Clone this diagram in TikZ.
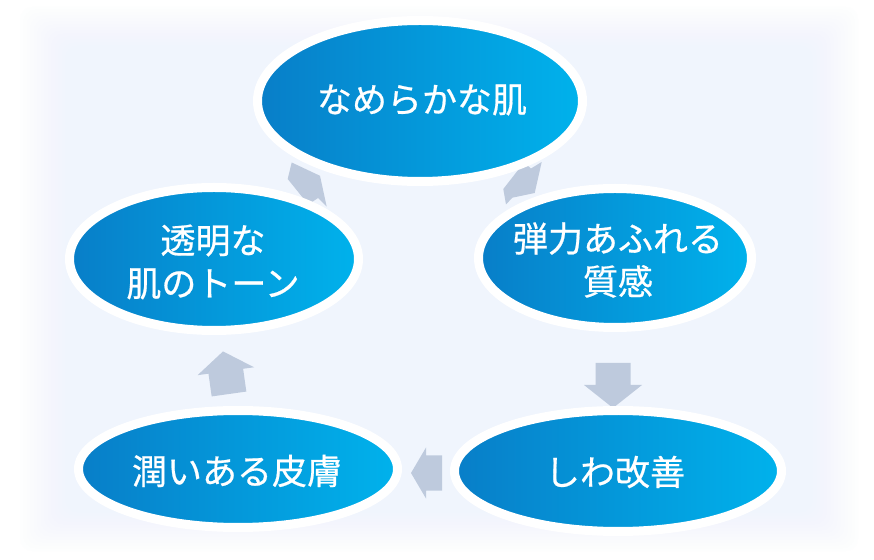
\documentclass[tikz,border=0pt]{standalone}
\usepackage{fontspec}
\newfontfamily\jp[FakeBold=0.6]{Noto Sans CJK JP}
\usetikzlibrary{shapes.geometric}
\definecolor{bluel}{RGB}{8,126,200}
\definecolor{bluer}{RGB}{0,178,236}
\definecolor{arrowc}{RGB}{190,202,221}
\definecolor{bgc}{RGB}{238,245,253}
\newcommand\barrow[7]{%
  \fill[arrowc, shift={(#2)}, rotate=#3] (0,-#6/2) -- ({#4-#5},-#6/2) -- ({#4-#5},-#7/2) -- (#4,0)
    -- ({#4-#5},#7/2) -- ({#4-#5},#6/2) -- (0,#6/2) -- cycle;
  \coordinate (#1) at (#2);}
\begin{document}
\begin{tikzpicture}[x=1pt,y=1pt,
  bubble/.style={ellipse, draw=white, line width=9pt, shade, left color=bluel, right color=bluer,
     inner sep=0pt, outer sep=0pt},
  lbl/.style={text=white, align=center, inner sep=0pt, font=\jp\fontsize{35}{43}\selectfont},
  ]
\useasboundingbox (0,0) rectangle (874,559);
\fill[white] (0,0) rectangle (874,559);
\foreach \i in {0,...,13}
  \fill[bgc, opacity=0.065, rounded corners=12pt] (20+\i*3.5, 8+\i*3) rectangle (858-\i*3.5, 552-\i*3);
% block arrows (under the ellipses)
\fill[arrowc] (291.7,396.5) -- (320,383.2) -- (326.7,352.3) -- (318,361) -- (308.3,354.5) -- (287.7,380) -- cycle;
\coordinate (a1) at (305,380);
\fill[arrowc] (524,396.5) -- (531,390.5) -- (541.7,397) -- (534.7,366) -- (512.3,361.3) -- (506,354.5) -- (503.3,370) -- cycle;
\coordinate (a2) at (520,380);
\barrow{a3}{613,196}{-90}{45}{23}{35}{58}
\barrow{a4}{442,86}{180}{31}{15}{35}{51}
\barrow{a5}{229,165}{98}{43}{20}{35}{57}
% ellipses
\node[bubble, minimum width=325pt, minimum height=161pt] (top) at (420,458) {};
\node[bubble, minimum width=273pt, minimum height=139pt] (right) at (615,301) {};
\node[bubble, minimum width=327pt, minimum height=121pt] (br) at (618,88) {};
\node[bubble, minimum width=319pt, minimum height=117pt] (bl) at (238,90) {};
\node[bubble, minimum width=289pt, minimum height=143pt] (left) at (214,300) {};
\node[lbl] (topT) at (422,459) {なめらかな肌};
\node[lbl] (rightT) at (618,299) {弾力あふれる\\質感};
\node[lbl] (brT) at (615,87) {しわ改善};
\node[lbl] (blT) at (237,88) {潤いある皮膚};
\node[lbl] (leftT) at (213,297) {透明な\\肌のトーン};
\end{tikzpicture}
\end{document}
